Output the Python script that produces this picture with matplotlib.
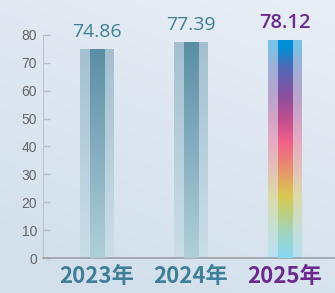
import numpy as np
import matplotlib
matplotlib.use("Agg")
import matplotlib.pyplot as plt
from matplotlib.colors import LinearSegmentedColormap, to_rgb

years = ["2023年", "2024年", "2025年"]
values = [74.86, 77.39, 78.12]
label_texts = ["74.86", "77.39", "78.12"]
yticks = [0, 10, 20, 30, 40, 50, 60, 70, 80]

teal_text = "#3f7f98"
purple_text = "#6b2b8e"
bg_col = np.array(to_rgb("#e0e9f3"))

plain_stops = [(0.0, "#b0d0d8"), (0.5, "#86aec0"), (1.0, "#5a8ea4")]
rainbow_stops = [(0.0, "#88d8f4"), (0.115, "#a0d4c0"), (0.19, "#b8d088"),
                 (0.285, "#d8c850"), (0.41, "#e8906e"), (0.53, "#f06088"),
                 (0.64, "#c04e8e"), (0.747, "#8a4fa0"), (0.886, "#4a6cb8"),
                 (0.97, "#0090d8"), (1.0, "#0090d8")]

W, H = 335, 293
fig = plt.figure(figsize=(W / 100, H / 100), dpi=100)

# background gradient
bgax = fig.add_axes([0, 0, 1, 1], zorder=-10)
gy, gx = np.mgrid[0:1:200j, 0:1:200j]
top = np.array(to_rgb("#e8eef6"))
bot = np.array(to_rgb("#d3e0ec"))
t = np.clip((gy * 0.8 + (1 - gx) * 0.35) / 1.0, 0, 1)[..., None]
img = top * (1 - t) + bot * t
bgax.imshow(img, extent=[0, 1, 0, 1], aspect="auto", origin="upper")
bgax.axis("off")

ax = fig.add_axes([43 / W, 35 / H, 1 - 43 / W, 258 / H])
ax.patch.set_alpha(0)
x = np.arange(len(years))
outer_w = 0.36
inner_w = 0.15
bars = ax.bar(x, values, width=outer_w, color="none", edgecolor="none")

def make_cmap(stops, fade):
    cols = []
    for p, c in stops:
        c = np.array(to_rgb(c))
        if fade:
            c = 0.45 * c + 0.55 * bg_col
        cols.append((p, c))
    return LinearSegmentedColormap.from_list("g", cols)

grad = np.linspace(0, 1, 256).reshape(-1, 1)
for i, b in enumerate(bars):
    stops = rainbow_stops if i == 2 else plain_stops
    x0 = b.get_x()
    h = b.get_height()
    cx = x0 + b.get_width() / 2
    ax.imshow(grad, cmap=make_cmap(stops, True), origin="lower", aspect="auto",
              extent=[x0, x0 + outer_w, 0, h], zorder=2)
    ax.imshow(grad, cmap=make_cmap(stops, False), origin="lower", aspect="auto",
              extent=[cx - inner_w / 2, cx + inner_w / 2, 0, h], zorder=3)
    col = purple_text if i == 2 else teal_text
    ax.annotate(label_texts[i], (cx, h), xytext=(0, 8.5), textcoords="offset points",
                ha="center", va="baseline", fontsize=14.5 if i == 2 else 14,
                color=col, family=["Open Sans", "DejaVu Sans"],
                fontweight="semibold" if i == 2 else "normal")

ax.set_xlim(-0.574, 2.537)
ax.set_ylim(0, 92.5)
ax.set_yticks(yticks)
ax.set_xticks(x)
ax.set_xticklabels(years)
for i, lab in enumerate(ax.get_xticklabels()):
    lab.set_color(purple_text if i == 2 else teal_text)
    lab.set_family(["Noto Sans CJK SC", "DejaVu Sans"])
    lab.set_fontweight("bold")
    lab.set_fontsize(16)
ax.tick_params(axis="x", length=0, pad=5)
ax.tick_params(axis="y", direction="in", length=5, width=1, color="#b8bcc4",
               pad=4.3, labelsize=10, labelcolor="#666666")
for lab in ax.get_yticklabels():
    lab.set_family(["Liberation Sans", "DejaVu Sans"])

for s in ["top", "right"]:
    ax.spines[s].set_visible(False)
ax.spines["left"].set_color("#c0c4cc")
ax.spines["left"].set_bounds(0, 80)
ax.spines["bottom"].set_color("#9aa0a8")
ax.spines["bottom"].set_linewidth(1.2)

fig.savefig("out.png", dpi=100)
